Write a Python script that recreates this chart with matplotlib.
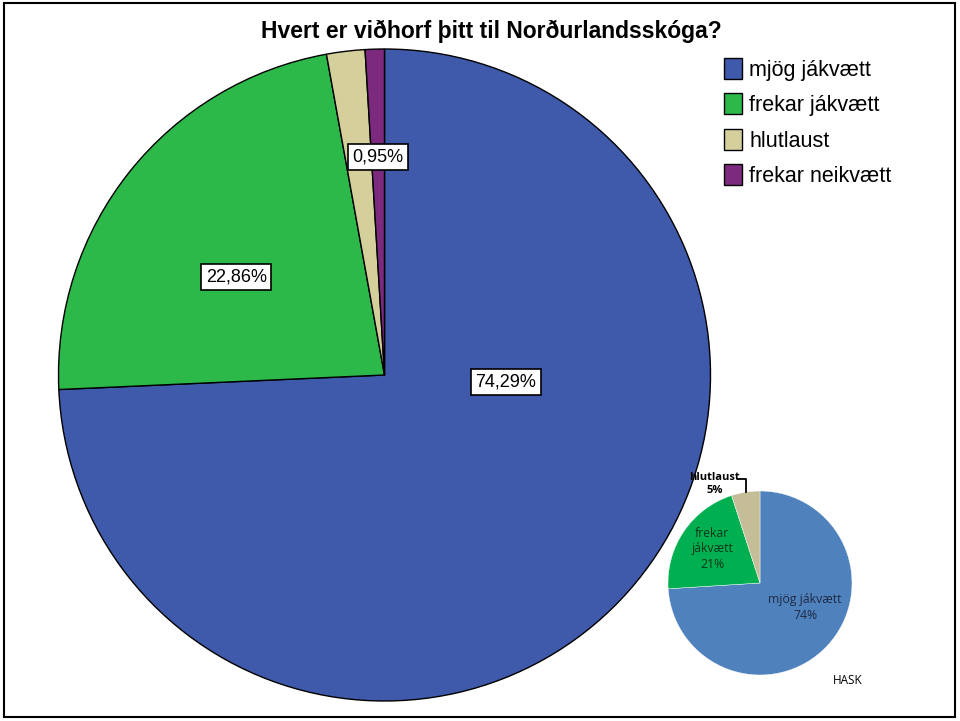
import matplotlib.pyplot as plt
from matplotlib.patches import Rectangle

# big pie
categories = ["mjög jákvætt", "frekar jákvætt", "hlutlaust", "frekar neikvætt"]
values = [74.29, 22.86, 1.90, 0.95]
label_texts = ["74,29%", "22,86%", None, "0,95%"]
colors = ["#3F59AB", "#2DB84A", "#D4CF9B", "#7B2A7E"]

# small inset pie
hask_cats = ["mjög jákvætt", "frekar jákvætt", "hlutlaust"]
hask_values = [74, 21, 5]
hask_colors = ["#4F81BD", "#00B050", "#C4BD97"]

plt.rcParams['font.family'] = ['Liberation Sans', 'DejaVu Sans']

fig = plt.figure(figsize=(9.6, 7.21), dpi=100)
W, H = 960, 721

def px_axes(cx, cy, r):
    return fig.add_axes([(cx - r) / W, 1 - (cy + r) / H, 2 * r / W, 2 * r / H])

# outer frame
fig.add_artist(Rectangle((4 / W, 4 / H), 951 / W, 714 / H, transform=fig.transFigure,
                         fill=False, edgecolor="black", linewidth=1.5))

fig.text(491 / W, 1 - 31 / H, "Hvert er viðhorf þitt til Norðurlandsskóga?",
         ha="center", va="center", fontsize=16.5, fontweight="bold")

ax = px_axes(384.5, 375, 326)
wedges, _ = ax.pie(values, colors=colors, startangle=90, counterclock=False,
                   wedgeprops=dict(edgecolor="black", linewidth=1.0))
ax.set_xlim(-1.0, 1.0)
ax.set_ylim(-1.0, 1.0)
ax.set_aspect("equal")

# label positions (axes data units)
label_pos = [(0.372, -0.02), (-0.455, 0.30), None, (-0.02, 0.668)]
for txt, pos in zip(label_texts, label_pos):
    if txt is None:
        continue
    ax.text(pos[0], pos[1], txt, ha="center", va="center", fontsize=13,
            bbox=dict(boxstyle="square,pad=0.25", facecolor="white",
                      edgecolor="black", linewidth=1.2))

fig.legend(wedges, categories, loc="upper left", bbox_to_anchor=(715 / W, 1 - 49 / H),
           frameon=False, fontsize=15.5, handlelength=0.85, handleheight=1.15,
           handletextpad=0.35, labelspacing=0.58, borderaxespad=0)

# inset pie
ax2 = px_axes(760, 583, 92)
w2, _ = ax2.pie(hask_values, colors=hask_colors, startangle=90, counterclock=False,
                wedgeprops=dict(edgecolor="white", linewidth=0.3))
ax2.set_xlim(-1.0, 1.0)
ax2.set_ylim(-1.0, 1.0)
ax2.set_aspect("equal")
ax2.text(0.49, -0.27, "mjög jákvætt\n74%", ha="center", va="center", fontsize=8.8,
         family=["Open Sans", "DejaVu Sans"], color="#1F2A44", linespacing=1.3)
ax2.text(-0.52, 0.37, "frekar\njákvætt\n21%", ha="center", va="center", fontsize=8.8,
         family=["Open Sans", "DejaVu Sans"], color="#10351B", linespacing=1.25)
ax2.text(-0.49, 1.076, "hlutlaust\n5%", ha="center", va="center", fontsize=8,
         family=["Open Sans", "DejaVu Sans"], fontweight="bold", linespacing=1.15)
ax2.plot([-0.24, -0.15, -0.15], [1.13, 1.13, 0.99], color="black", linewidth=1.3,
         clip_on=False)

fig.text(848 / W, 1 - 680 / H, "HASK", ha="center", va="center", fontsize=8.5,
         family=["Open Sans", "DejaVu Sans"])

fig.savefig("out.png", dpi=100)
